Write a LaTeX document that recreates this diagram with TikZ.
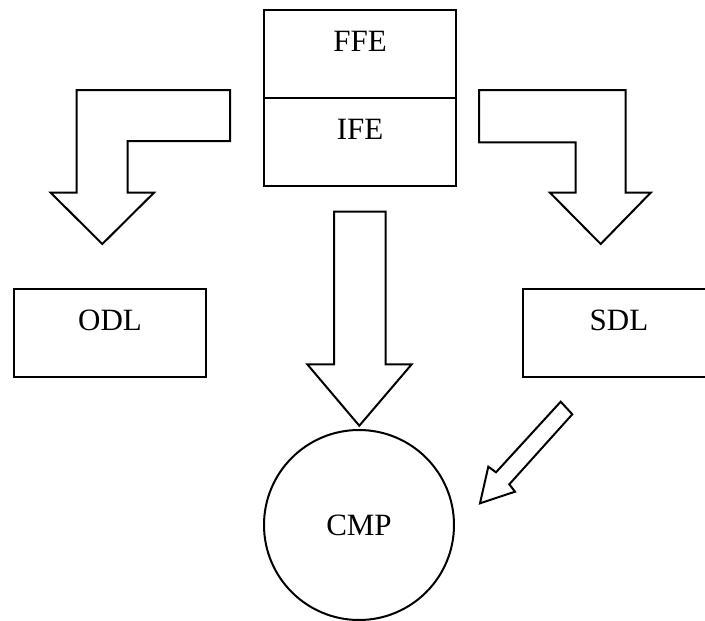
\documentclass[tikz,border=0pt]{standalone}
\usepackage{fontspec}
\setmainfont{Liberation Serif}
\begin{document}
\begin{tikzpicture}[x=1pt, y=-1pt, line join=miter,
  outline/.style={draw=black, line width=2pt, fill=white},
  box/.style={outline, rectangle, inner sep=0pt, minimum width=192pt},
  lbl/.style={font=\fontsize{31}{33}\selectfont, inner sep=0pt, anchor=base}]
\useasboundingbox (0,0) rectangle (705,621);
\begin{scope}
  \clip (0,0) rectangle (705,621);

  % stacked source boxes
  \node[box, minimum height=87.7pt] (ffe) at (360,53.85) {};
  \node[box, minimum height=88pt]   (ife) at (360,141.7) {};
  \node[lbl] (ffetxt) at (360,51.7)  {FFE};
  \node[lbl] (ifetxt) at (360,139.3) {IFE};

  % side targets
  \node[box, minimum height=88pt] (odl) at (110,333.3) {};
  \node[box, minimum height=88pt] (sdl) at (619,333.3) {};
  \node[lbl] (odltxt) at (110,330) {ODL};
  \node[lbl] (sdltxt) at (619,330) {SDL};

  % bottom circle
  \node[outline, circle, minimum size=190pt, inner sep=0pt] (cmp) at (359,525) {};
  \node[lbl] (cmptxt) at (359,535) {CMP};

  % bent block arrow to the left
  \draw[outline] (76.7,90) -- (230,90) -- (230,141) -- (127.7,141)
    -- (127.7,192.7) -- (154,192.7) -- (102.3,244) -- (50.7,192.7)
    -- (76.7,192.7) -- cycle;

  % bent block arrow to the right
  \draw[outline] (479,90) -- (625.7,90) -- (625.7,192.7) -- (650.7,192.7)
    -- (600.7,244) -- (550,192.7) -- (575.7,192.7) -- (575.7,142.3)
    -- (479,142.3) -- cycle;

  % straight block arrow down to the circle
  \draw[outline] (334,211.7) -- (385.7,211.7) -- (385.7,364.3)
    -- (411.7,364.3) -- (359.3,425.7) -- (307.3,364.3) -- (334,364.3) -- cycle;

  % diagonal block arrow from SDL towards the circle
  \draw[outline] (560.7,401.7) -- (572.3,414.3) -- (509.3,484.3)
    -- (515,491.7) -- (480,503.3) -- (488.3,466.7) -- (496,472.3) -- cycle;
\end{scope}
\end{tikzpicture}
\end{document}
